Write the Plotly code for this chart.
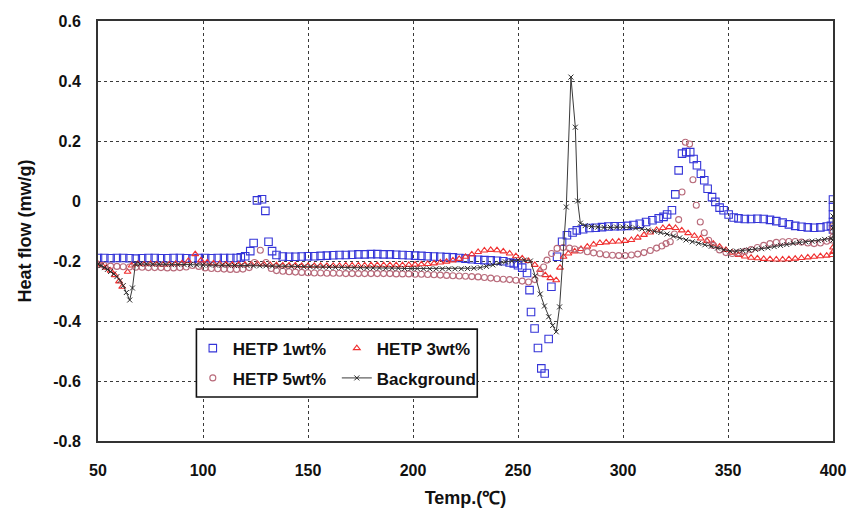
import plotly.graph_objects as go

# ---------------- data ----------------
temp_1wt = [50, 53, 56, 59, 62, 65, 68, 71, 74, 77, 80, 83, 86, 89, 92, 95, 98, 101, 104, 107, 110, 113, 116, 118,
            120.1, 122.5, 124.1, 125.7, 128.1, 129.7, 131.2, 132.9, 135,
            138, 141, 144, 147, 150, 153, 156, 159, 162, 165, 168, 171, 174, 177, 180, 183, 186, 189, 192, 195, 198,
            201, 204, 207, 210, 213, 216, 219, 222, 225, 228, 231, 234, 237, 240, 243, 246,
            248, 250, 252, 254.3, 255.5, 256.2, 257.9, 259.5, 261.1, 262.7, 264.6, 265.9, 268.6, 271, 273.3, 276, 278,
            281, 284, 287, 290, 293, 296, 299, 302, 305, 308, 311, 314, 317,
            319.3, 321, 323.3, 324.9, 326.5, 328.1, 330.1, 332, 333.6, 335.2, 337.1, 338.7, 340.3, 342.4, 344, 346,
            347.9, 350.3, 352.7,
            355, 358, 361, 364, 367, 370, 373, 376, 379, 382, 385, 388, 391, 394, 397,
            399, 400, 400, 400, 400, 400]
hf_1wt = [-0.19, -0.19, -0.191, -0.19, -0.19, -0.191, -0.192, -0.191, -0.19, -0.19, -0.191, -0.191, -0.19, -0.19,
          -0.191, -0.192, -0.19, -0.19, -0.191, -0.19, -0.19, -0.19, -0.19, -0.188,
          -0.184, -0.167, -0.14, 0.002, 0.006, -0.033, -0.136, -0.167, -0.18,
          -0.185, -0.186, -0.186, -0.185, -0.184, -0.184, -0.183, -0.182, -0.181, -0.18, -0.18, -0.179, -0.178,
          -0.178, -0.177, -0.177, -0.178, -0.178, -0.179, -0.18, -0.181, -0.182, -0.183, -0.184, -0.185, -0.186,
          -0.187, -0.188, -0.19, -0.192, -0.194, -0.196, -0.197, -0.198, -0.199, -0.201, -0.205,
          -0.208, -0.214, -0.222, -0.24, -0.297, -0.37, -0.425, -0.49, -0.558, -0.575, -0.46, -0.286, -0.186,
          -0.136, -0.114, -0.105, -0.098,
          -0.094, -0.09, -0.089, -0.087, -0.085, -0.084, -0.084, -0.083, -0.08, -0.076, -0.07, -0.064, -0.058,
          -0.053, -0.045, -0.031, 0.022, 0.102, 0.158, 0.163, 0.163, 0.14, 0.119, 0.091, 0.069, 0.041, 0.013,
          -0.003, -0.022, -0.031, -0.045, -0.055,
          -0.058, -0.06, -0.06, -0.059, -0.06, -0.063, -0.067, -0.072, -0.078, -0.083, -0.086, -0.088, -0.089,
          -0.088, -0.085,
          -0.083, -0.095, -0.07, -0.045, -0.02, 0.005]

temp_3wt = [50, 52, 54, 56, 58, 60, 61.5, 64.1, 66,
            69, 72, 75, 78, 81, 84, 87, 90, 93,
            96.3, 99,
            102, 105, 108, 111, 114, 117, 120, 123, 126, 129,
            132, 135, 138, 141, 144, 147, 150, 153, 156, 159,
            162, 165, 168, 171, 174, 177, 180, 183, 186, 189,
            192, 195, 198, 201, 204, 207, 210, 213, 216,
            219, 222, 225, 228, 231, 234, 237, 240, 243, 246, 249, 252, 255, 258, 260.5, 263, 265.4, 268.2, 270,
            271.7, 274, 277,
            280, 283, 286, 289, 292, 295, 298, 301, 304, 307, 310, 313, 316, 319, 322,
            325, 328, 331, 334, 337, 340, 343, 346, 349, 352, 355, 358, 361, 364, 367, 370, 373, 376, 379, 382,
            385, 388, 391, 394, 397,
            399.5, 400, 400]
hf_3wt = [-0.21, -0.215, -0.222, -0.232, -0.247, -0.268, -0.286, -0.236, -0.215,
          -0.21, -0.211, -0.21, -0.211, -0.212, -0.211, -0.21, -0.208, -0.2,
          -0.177, -0.198,
          -0.205, -0.208, -0.21, -0.211, -0.212, -0.212, -0.212, -0.211, -0.21, -0.211,
          -0.213, -0.214, -0.215, -0.215, -0.215, -0.216, -0.216, -0.216, -0.216, -0.216,
          -0.216, -0.216, -0.215, -0.215, -0.215, -0.215, -0.214, -0.214, -0.214, -0.214,
          -0.214, -0.214, -0.213, -0.212, -0.211, -0.21, -0.208, -0.205, -0.202,
          -0.198, -0.193, -0.186, -0.178, -0.17, -0.165, -0.163, -0.164, -0.168, -0.175, -0.184, -0.191, -0.2,
          -0.213, -0.23, -0.247, -0.257, -0.264, -0.222, -0.186, -0.175, -0.168,
          -0.16, -0.152, -0.145, -0.14, -0.138, -0.136, -0.135, -0.133, -0.13, -0.122, -0.113, -0.105, -0.096,
          -0.09, -0.087,
          -0.09, -0.098, -0.107, -0.116, -0.125, -0.133, -0.142, -0.152, -0.163, -0.172, -0.18, -0.185, -0.189,
          -0.191, -0.193, -0.194, -0.195, -0.195, -0.194, -0.192, -0.19, -0.188, -0.186, -0.184, -0.182,
          -0.18, -0.17, -0.155]

temp_5wt = [50, 53, 56, 59, 62, 65, 68, 71, 74, 77, 80, 83, 86, 89, 92, 95, 98,
            101, 104, 107, 110, 113, 116, 119, 122,
            124.5, 127.3, 130, 132.5,
            135, 138, 141, 144, 147, 150, 153, 156, 159, 162,
            165, 168, 171, 174, 177, 180, 183, 186, 189, 192,
            195, 198, 201, 204, 207, 210, 213, 216, 219, 222,
            225, 228, 231,
            234, 237, 240, 243, 246, 249, 252, 255, 258, 260.6, 262.2, 263.8, 266, 268.6, 271.5, 274.5, 277, 279.7,
            283, 286, 289, 292, 295, 298, 301, 304, 307, 310, 313, 316, 318.5, 320.5, 322.5,
            324.5, 326.5, 328.1, 329.7, 331.7, 333.3, 334.9, 336.8, 338.7, 340.8, 343, 346,
            349, 352, 355, 358, 361, 364, 367, 370, 373, 376, 379, 382, 385, 388, 391, 394, 397,
            399.5, 400, 400, 400]
hf_5wt = [-0.212, -0.215, -0.217, -0.218, -0.219, -0.22, -0.221, -0.221, -0.222, -0.222, -0.222, -0.223, -0.223,
          -0.222, -0.22, -0.215, -0.218,
          -0.223, -0.225, -0.226, -0.227, -0.228, -0.228, -0.227, -0.222,
          -0.205, -0.164, -0.205, -0.225,
          -0.232, -0.234, -0.236, -0.237, -0.238, -0.239, -0.24, -0.24, -0.241, -0.241,
          -0.241, -0.242, -0.242, -0.242, -0.242, -0.242, -0.242, -0.242, -0.242, -0.243,
          -0.243, -0.243, -0.244, -0.244, -0.245, -0.246, -0.247, -0.248, -0.249, -0.25,
          -0.251, -0.252, -0.253,
          -0.255, -0.257, -0.259, -0.261, -0.262, -0.264, -0.267, -0.27, -0.262, -0.24, -0.22, -0.197, -0.175,
          -0.158, -0.155, -0.157, -0.16, -0.164,
          -0.169, -0.173, -0.176, -0.179, -0.181, -0.182, -0.182, -0.18, -0.177, -0.172, -0.165, -0.157, -0.15,
          -0.142, -0.136,
          -0.11, -0.062, 0.03, 0.196, 0.19, 0.071, -0.014, -0.07, -0.106, -0.131, -0.148, -0.163,
          -0.172, -0.175, -0.173, -0.168, -0.162, -0.155, -0.148, -0.142, -0.138, -0.136, -0.135, -0.135, -0.137,
          -0.14, -0.142, -0.14, -0.134,
          -0.13, -0.12, -0.1, -0.085]

temp_bg = [50, 51.5, 53, 54.5, 56, 57.5, 59, 60.5, 62, 63.5, 65.1, 66.4, 67.8,
           70, 73, 76, 79, 82, 85, 88, 91, 94, 97,
           100, 103, 106, 109, 112, 115, 118, 121, 124, 127,
           130, 133, 136, 139, 142, 145, 148, 151, 154, 157,
           160, 163, 166, 169, 172, 175, 178, 181, 184, 187,
           190, 193, 196, 199, 202, 205, 208, 211, 214, 217,
           220, 223, 226, 229,
           232, 235, 238, 241, 244, 247, 250, 253, 255.9, 258.2, 260.6, 262.6, 264.6, 266.5, 268.2, 269.8, 273,
           275.2, 277.3, 278.4, 279.7,
           282, 285, 288, 291, 294, 297, 300, 303, 306, 309,
           312, 315, 318, 321, 324, 327, 330, 333, 336, 339,
           342, 345, 348, 351, 354, 357, 360, 363, 366, 369,
           372, 375, 378, 381, 384, 387, 390, 393, 396, 399,
           400, 400, 400]
hf_bg = [-0.21, -0.215, -0.222, -0.228, -0.235, -0.243, -0.252, -0.265, -0.282, -0.305, -0.33, -0.29, -0.21,
         -0.21, -0.21, -0.211, -0.211, -0.211, -0.212, -0.212, -0.212, -0.212, -0.213,
         -0.213, -0.213, -0.214, -0.214, -0.214, -0.215, -0.215, -0.215, -0.216, -0.216,
         -0.216, -0.217, -0.217, -0.218, -0.218, -0.218, -0.219, -0.219, -0.22, -0.22,
         -0.22, -0.221, -0.221, -0.222, -0.222, -0.222, -0.223, -0.223, -0.223, -0.224,
         -0.224, -0.224, -0.225, -0.225, -0.225, -0.226, -0.226, -0.226, -0.226, -0.226,
         -0.226, -0.226, -0.225, -0.224,
         -0.222, -0.218, -0.213, -0.208, -0.203, -0.2, -0.197, -0.197, -0.2, -0.25, -0.31, -0.35, -0.386, -0.415,
         -0.436, -0.353, -0.02, 0.413, 0.246, 0.0, -0.074,
         -0.082, -0.085, -0.087, -0.088, -0.088, -0.087, -0.087, -0.088, -0.09, -0.093,
         -0.097, -0.101, -0.105, -0.11, -0.117, -0.123, -0.13, -0.136, -0.141, -0.146,
         -0.151, -0.157, -0.163, -0.167, -0.167, -0.165, -0.163, -0.161, -0.159, -0.156,
         -0.152, -0.148, -0.145, -0.141, -0.138, -0.136, -0.134, -0.132, -0.128, -0.125,
         -0.13, -0.09, -0.05]

for a, b in [(temp_1wt, hf_1wt), (temp_3wt, hf_3wt), (temp_5wt, hf_5wt), (temp_bg, hf_bg)]:
    assert len(a) == len(b), (len(a), len(b))

x_ticks = [50, 100, 150, 200, 250, 300, 350, 400]
y_ticks = [-0.8, -0.6, -0.4, -0.2, 0, 0.2, 0.4, 0.6]
y_tick_text = ["-0.8", "-0.6", "-0.4", "-0.2", "0", "0.2", "0.4", "0.6"]

FONT = "Liberation Sans, Arial, sans-serif"

fig = go.Figure()
fig.add_trace(go.Scatter(
    x=temp_1wt, y=hf_1wt, name="HETP 1wt%", mode="markers", legend="legend",
    marker=dict(symbol="square-open", size=7.5, color="#3535d8", line=dict(width=1.1))))
fig.add_trace(go.Scatter(
    x=temp_3wt, y=hf_3wt, name="HETP 3wt%", mode="markers", legend="legend",
    marker=dict(symbol="triangle-up-open", size=6, color="#f03030", line=dict(width=1.1))))
fig.add_trace(go.Scatter(
    x=temp_5wt, y=hf_5wt, name="HETP 5wt%", mode="markers", legend="legend2",
    marker=dict(symbol="circle-open", size=6, color="#b86a7a", line=dict(width=1.1))))
fig.add_trace(go.Scatter(
    x=temp_bg, y=hf_bg, name="Background", mode="lines+markers", legend="legend2",
    line=dict(color="#3a3a3a", width=1),
    marker=dict(symbol="x-thin-open", size=5, color="#2a2a2a", line=dict(width=1, color="#2a2a2a"))))

axis_common = dict(
    automargin=False,
    showgrid=True, gridcolor="#3a3a3a", gridwidth=1.3, griddash="dot",
    showline=True, mirror=True, linecolor="#333333", linewidth=2,
    zeroline=False, ticks="outside", tickcolor="rgba(0,0,0,0)",
    tickfont=dict(family=FONT, size=16, color="#111111", weight="bold"),
)

legend_common = dict(orientation="h", xanchor="left", yanchor="top",
                     bgcolor="rgba(0,0,0,0)", borderwidth=0, entrywidth=99, entrywidthmode="pixels",
                     tracegroupgap=0,
                     font=dict(family=FONT, size=17, color="#111111", weight="bold"))

# The page body has an 8px default margin, so the figure is sized to fit the window.
fig.update_layout(
    width=852, height=506,
    margin=dict(l=89.5, r=27, t=12.5, b=73),
    paper_bgcolor="white", plot_bgcolor="white",
    showlegend=True,
    xaxis=dict(range=[50, 400], tickvals=x_ticks, ticklen=14,
               title=dict(text="Temp.(℃)", standoff=13,
                          font=dict(family=FONT, size=18, color="#111111", weight="bold")),
               **axis_common),
    yaxis=dict(range=[-0.8, 0.6], tickvals=y_ticks, ticktext=y_tick_text, ticklen=12,
               title=dict(text="Heat flow (mw/g)", standoff=17,
                          font=dict(family=FONT, size=18, color="#111111", weight="bold")),
               **axis_common),
    legend=dict(x=0.129, y=0.263, **legend_common),
    legend2=dict(x=0.129, y=0.192, **legend_common),
    shapes=[dict(type="rect", xref="paper", yref="paper", x0=0.1339, x1=0.516, y0=0.1046, y1=0.2663,
                 line=dict(color="#111111", width=1.6), fillcolor="white", layer="above")],
)

fig.write_html("out.html")
